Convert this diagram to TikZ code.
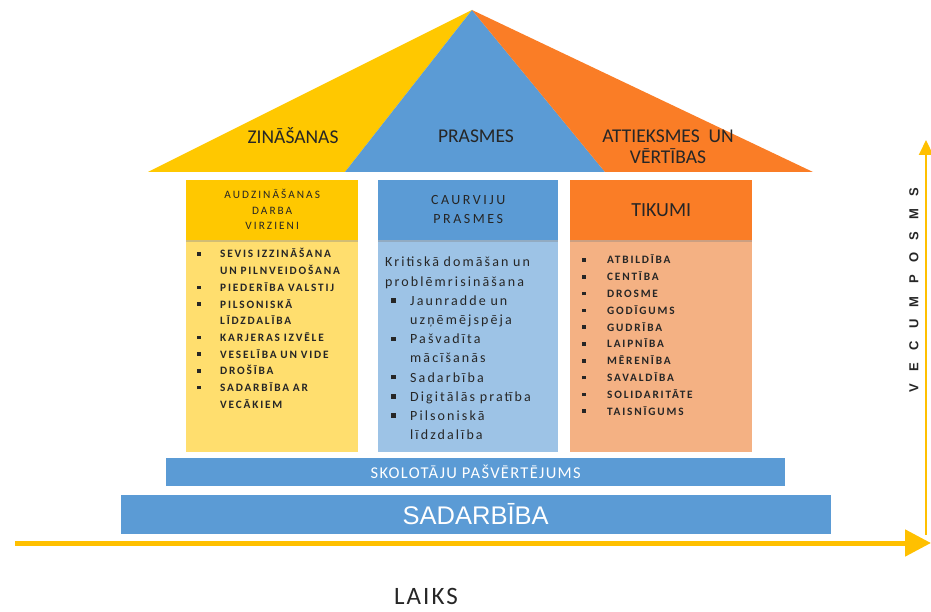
\documentclass[tikz,border=0pt]{standalone}
\usepackage{fontspec}
\setmainfont{Carlito}
\newfontfamily\capsfont[LetterSpace=18]{Carlito}
\newfontfamily\itemcaps[LetterSpace=16, WordSpace=2]{Carlito}
\newfontfamily\listfont[LetterSpace=15]{Carlito}
\newfontfamily\barfont[LetterSpace=8]{Carlito}
\newfontfamily\widecaps[LetterSpace=95]{Liberation Sans}
\newfontfamily\arialfont{Liberation Sans}
\usetikzlibrary{arrows.meta, positioning, shadows}
\definecolor{roofyellow}{RGB}{255,200,0}
\definecolor{roofblue}{RGB}{91,155,213}
\definecolor{rooforange}{RGB}{250,125,38}
\definecolor{yellowbody}{RGB}{255,222,110}
\definecolor{bluebody}{RGB}{157,195,230}
\definecolor{orangebody}{RGB}{244,177,131}
\definecolor{axisgold}{RGB}{255,192,0}

\newlength{\bulpre}
\newcommand{\bul}[2][23pt]{\hangindent=#1\noindent\makebox[#1][l]{\hspace{\bulpre}\rule[0.2em]{0.32em}{0.32em}}#2\par}

\begin{document}
\begin{tikzpicture}[x=1pt, y=1pt,
    hdr/.style={inner sep=0pt, minimum height=60pt, align=center, text=black!85,
      drop shadow={shadow xshift=0pt, shadow yshift=-2.5pt, opacity=0.35}},
    bodybox/.style={inner sep=0pt, minimum height=212pt},
    itemlist/.style={anchor=base west, inner sep=0pt, text width=#1, text=black!85},
    bar/.style={fill=roofblue, text=white, inner sep=0pt},
    rooflabel/.style={font=\fontsize{19.5}{21}\selectfont, text=black!85, align=center},
    timeaxis/.style={draw=axisgold, line width=5pt, -{Triangle[length=26pt, width=26pt]}},
    ageaxis/.style={draw=axisgold, line width=2pt, -{Triangle[length=15pt, width=14pt]}},
]
\useasboundingbox (0,0) rectangle (931,611);

% roof
\coordinate (apex) at (472,601);
\coordinate (eaveL) at (148,439);
\coordinate (splitL) at (345,439);
\coordinate (splitR) at (605,439);
\coordinate (eaveR) at (813,439);
\fill[roofyellow] (eaveL) -- (apex) -- (splitL) -- cycle;
\fill[roofblue] (splitL) -- (apex) -- (splitR) -- cycle;
\fill[rooforange] (splitR) -- (apex) -- (eaveR) -- cycle;
\node[rooflabel] (know) at (293,475) {ZINĀŠANAS};
\node[rooflabel] (skill) at (476,475) {PRASMES};
\node[rooflabel] (attit) at (668,464) {ATTIEKSMES\ \ UN\\VĒRTĪBAS};

% columns
\node[bodybox, minimum width=172pt, fill=yellowbody, anchor=north west] (ybody) at (186,371) {};
\node[bodybox, minimum width=180pt, fill=bluebody, anchor=north west] (bbody) at (378,371) {};
\node[bodybox, minimum width=182pt, fill=orangebody, anchor=north west] (obody) at (570,371) {};
\node[hdr, minimum width=172pt, fill=roofyellow, above=0pt of ybody,
  font=\capsfont\fontsize{11.3}{15.5}\selectfont] (yhdr) {AUDZINĀŠANAS\\DARBA\\VIRZIENI};
\node[hdr, minimum width=180pt, fill=roofblue, above=0pt of bbody,
  font=\capsfont\fontsize{14}{19}\selectfont] (bhdr) {CAURVIJU\\PRASMES};
\node[hdr, minimum width=182pt, fill=rooforange, above=0pt of obody,
  font=\fontsize{20}{21}\selectfont] (ohdr) {TIKUMI};

% lists
\node[itemlist=168pt, font=\itemcaps\bfseries\fontsize{11.3}{16.7}\selectfont] (ylist) at (197,353) {%
  \bul{SEVIS IZZINĀŠANA\newline UN PILNVEIDOŠANA}
  \bul{PIEDERĪBA VALSTIJ}
  \bul{PILSONISKĀ\newline LĪDZDALĪBA}
  \bul{KARJERAS IZVĒLE}
  \bul{VESELĪBA UN VIDE}
  \bul{DROŠĪBA}
  \bul{SADARBĪBA AR\newline VECĀKIEM}};
\node[itemlist=178pt, font=\listfont\fontsize{14}{19.2}\selectfont] (blist) at (385,344) {%
  \setlength{\bulpre}{6pt}\noindent Kritiskā domāšan un\newline problēmrisināšana\par
  \bul[25pt]{Jaunradde un\newline uzņēmējspēja}
  \bul[25pt]{Pašvadīta\newline mācīšanās}
  \bul[25pt]{Sadarbība}
  \bul[25pt]{Digitālās pratība}
  \bul[25pt]{Pilsoniskā\newline līdzdalība}};
\node[itemlist=170pt, font=\itemcaps\bfseries\fontsize{11.3}{16.8}\selectfont] (olist) at (582,347) {%
  \bul[25pt]{ATBILDĪBA}
  \bul[25pt]{CENTĪBA}
  \bul[25pt]{DROSME}
  \bul[25pt]{GODĪGUMS}
  \bul[25pt]{GUDRĪBA}
  \bul[25pt]{LAIPNĪBA}
  \bul[25pt]{MĒRENĪBA}
  \bul[25pt]{SAVALDĪBA}
  \bul[25pt]{SOLIDARITĀTE}
  \bul[25pt]{TAISNĪGUMS}};

% base bars
\node[bar, minimum width=619pt, minimum height=28pt, anchor=north west,
  font=\barfont\fontsize{16.5}{18}\selectfont] (selfeval) at (166,153) {SKOLOTĀJU PAŠVĒRTĒJUMS};
\node[bar, minimum width=710pt, minimum height=39pt, below=8pt of selfeval,
  font=\arialfont\fontsize{25.5}{27}\selectfont] (coop) {SADARBĪBA};

% axes
\coordinate (tstart) at (15,68);
\coordinate (tend) at (931,68);
\draw[timeaxis] (tstart) -- (tend);
\coordinate (abottom) at (926,76);
\coordinate (atop) at (926,471);
\draw[ageaxis] (abottom) -- (atop);
\node[font=\widecaps\bfseries\fontsize{13}{15}\selectfont, text=black!85, rotate=90] (age) at (914,321) {VECUMPOSMS};
\node[font=\barfont\fontsize{25}{27}\selectfont, text=black!85] (time) at (426,15) {LAIKS};
\end{tikzpicture}
\end{document}
